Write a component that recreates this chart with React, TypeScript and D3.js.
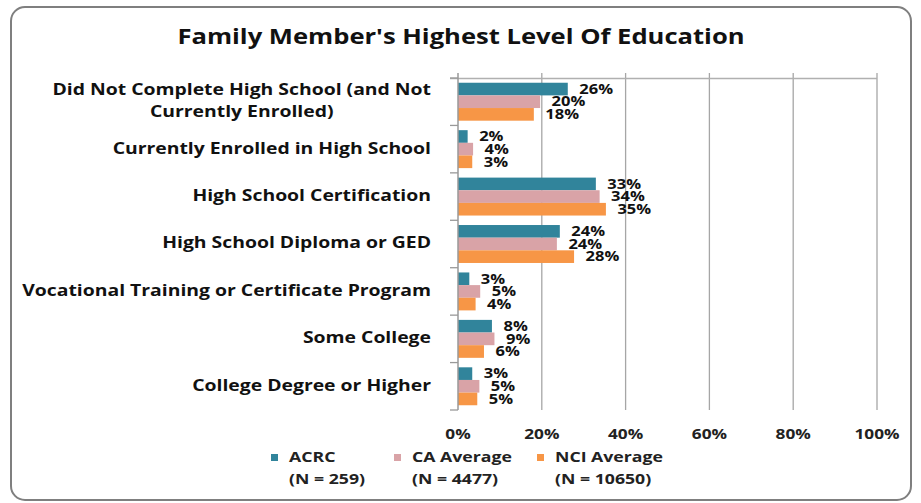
import React, { useEffect, useRef } from "react";
import * as d3 from "d3";

// chart values
const categories = [
  "Did Not Complete High School (and Not|Currently Enrolled)",
  "Currently Enrolled in High School",
  "High School Certification",
  "High School Diploma or GED",
  "Vocational Training or Certificate Program",
  "Some College",
  "College Degree or Higher",
];
const acrcValues = [26.2, 2.3, 32.9, 24.3, 2.7, 8.1, 3.4];
const caValues = [19.6, 3.6, 33.8, 23.6, 5.3, 8.7, 5.1];
const nciValues = [18.1, 3.4, 35.3, 27.7, 4.2, 6.2, 4.6];
const seriesNames = ["ACRC", "CA Average", "NCI Average"];
const seriesCounts = ["(N = 259)", "(N = 4477)", "(N = 10650)"];
const xTicks = [0, 20, 40, 60, 80, 100];

const colors = ["#31849B", "#D9A3A7", "#F79646"];
const font = "'Open Sans', sans-serif";

const width = 921,
  height = 503;
const margin = { top: 78, left: 458, right: 44, bottom: 93 };

// the reference text is wider than Open Sans, so stretch it sideways
const addText = (
  parent: d3.Selection<any, unknown, null, undefined>,
  x: number,
  y: number,
  size: number,
  stretch: number,
  anchor = "start"
) =>
  parent
    .append("g")
    .attr("transform", `translate(${x},${y}) scale(${stretch},1)`)
    .append("text")
    .attr("text-anchor", anchor)
    .style("font-family", font)
    .style("font-weight", "bold")
    .style("font-size", size + "px")
    .attr("fill", "#111");

export default function App() {
  const ref = useRef<SVGSVGElement>(null);

  useEffect(() => {
    const svg = d3.select(ref.current);
    svg.selectAll("*").remove();

    const x = d3
      .scaleLinear()
      .domain([0, 100])
      .range([margin.left, width - margin.right]);
    const y = d3
      .scaleBand()
      .domain(categories)
      .range([margin.top, height - margin.bottom])
      .paddingInner(0.2)
      .paddingOuter(0.1);
    const yOuter = d3
      .scaleBand()
      .domain(categories)
      .range([margin.top, height - margin.bottom]);
    const ySub = d3
      .scaleBand()
      .domain(seriesNames)
      .range([0, y.bandwidth()]);

    // chart border
    svg
      .append("rect")
      .attr("x", 11)
      .attr("y", 7)
      .attr("width", 900)
      .attr("height", 493)
      .attr("rx", 14)
      .attr("fill", "white")
      .attr("stroke", "#7f7f7f")
      .attr("stroke-width", 2);

    // title
    addText(svg, 461, 44, 21.5, 1.19, "middle").text(
      "Family Member's Highest Level Of Education"
    );

    // gridlines
    svg
      .append("g")
      .selectAll("line")
      .data(xTicks.slice(1))
      .enter()
      .append("line")
      .attr("x1", (d) => x(d))
      .attr("x2", (d) => x(d))
      .attr("y1", margin.top - 5)
      .attr("y2", height - margin.bottom)
      .attr("stroke", "#a6a6a6")
      .attr("stroke-width", 1.3);

    svg
      .append("line")
      .attr("x1", margin.left - 8)
      .attr("x2", x(100))
      .attr("y1", margin.top + 0.5)
      .attr("y2", margin.top + 0.5)
      .attr("stroke", "#b0b0b0")
      .attr("stroke-width", 1.3);

    // bars and value labels
    const series = [acrcValues, caValues, nciValues];
    series.forEach((vals, si) => {
      const g = svg.append("g");
      g.selectAll("rect")
        .data(categories)
        .enter()
        .append("rect")
        .attr("x", x(0))
        .attr("y", (d) => y(d)! + ySub(seriesNames[si])!)
        .attr("width", (d, i) => x(vals[i]) - x(0))
        .attr("height", ySub.bandwidth())
        .attr("fill", colors[si]);

      categories.forEach((c, i) => {
        addText(
          g,
          x(vals[i]) + 11.5,
          y(c)! + ySub(seriesNames[si])! + ySub.bandwidth() / 2 + 1,
          14,
          1.18
        )
          .attr("dominant-baseline", "middle")
          .text(Math.round(vals[i]) + "%");
      });
    });

    // y axis
    svg
      .append("line")
      .attr("x1", margin.left)
      .attr("x2", margin.left)
      .attr("y1", margin.top - 5)
      .attr("y2", height - margin.bottom)
      .attr("stroke", "#999")
      .attr("stroke-width", 1.5);
    const boundaries = categories
      .map((c) => yOuter(c)!)
      .concat([height - margin.bottom]);
    svg
      .append("g")
      .selectAll("line")
      .data(boundaries)
      .enter()
      .append("line")
      .attr("x1", margin.left - 8)
      .attr("x2", margin.left)
      .attr("y1", (d) => d)
      .attr("y2", (d) => d)
      .attr("stroke", "#999")
      .attr("stroke-width", 1.3);

    // category labels, multi-line ones centred on their widest line
    const labelRight = 431;
    const labelStretch = 1.25;
    categories.forEach((c) => {
      const lines = c.split("|");
      const cy = yOuter(c)! + yOuter.bandwidth() / 2;
      const lh = 22;
      const t = addText(svg, labelRight, 0, 15.5, labelStretch).attr(
        "dominant-baseline",
        "middle"
      );
      lines.forEach((l, li) => {
        t.append("tspan")
          .attr("y", cy + (li - (lines.length - 1) / 2) * lh)
          .text(l);
      });
      const tspans = t.selectAll<SVGTSpanElement, unknown>("tspan").nodes();
      const maxW = d3.max(tspans, (n) => n.getComputedTextLength()) || 0;
      t.attr("text-anchor", "middle");
      t.selectAll("tspan").attr("x", -maxW / 2);
    });

    // x axis labels
    xTicks.forEach((d) => {
      addText(svg, x(d), 435, 15, 1.15, "middle")
        .attr("dominant-baseline", "middle")
        .attr("fill", "#222")
        .text(d + "%");
    });

    // legend
    const legendX = [271, 394, 537];
    seriesNames.forEach((s, i) => {
      svg
        .append("rect")
        .attr("x", legendX[i])
        .attr("y", 454)
        .attr("width", 7)
        .attr("height", 7)
        .attr("fill", colors[i]);
      const t = addText(svg, legendX[i] + 18, 0, 15, 1.18)
        .attr("fill", "#222")
        .attr("dominant-baseline", "middle");
      t.append("tspan").attr("x", 0).attr("y", 458).text(s);
      t.append("tspan").attr("x", 0).attr("y", 480.5).text(seriesCounts[i]);
    });
  }, []);

  return (
    <svg
      ref={ref}
      width={width}
      height={height}
      style={{ position: "absolute", left: 0, top: 0, background: "white" }}
    ></svg>
  );
}
